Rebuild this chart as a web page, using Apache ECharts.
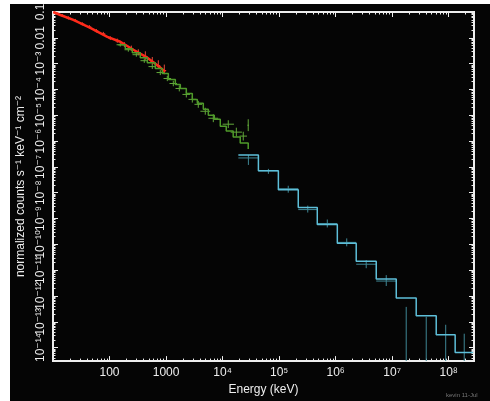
<!DOCTYPE html>
<html><head><meta charset="utf-8">
<script src="https://cdn.jsdelivr.net/npm/echarts@6/dist/echarts.min.js"></script>
<style>
html,body{margin:0;padding:0;background:#fff;width:490px;height:401px;overflow:hidden;}
#bg{position:absolute;left:10px;top:4px;width:480px;height:397px;background:#050505;}
#chart{position:absolute;left:0;top:0;width:490px;height:401px;}
</style></head><body><div id="bg"></div><div id="chart"></div>
<script>
// ---- axis ticks / labels ----
const xMin = 10, xMax = 2.8e8;
const yMin = 3.0e-15, yMax = 0.1;
const xTickValues = [10, 100, 1000, 1e4, 1e5, 1e6, 1e7, 1e8];
const xTickLabels = ['', '100', '1000', '10⁴', '10⁵', '10⁶', '10⁷', '10⁸'];
const yTickValues = [0.1, 0.01, 1e-3, 1e-4, 1e-5, 1e-6, 1e-7, 1e-8, 1e-9, 1e-10, 1e-11, 1e-12, 1e-13, 1e-14];
const yTickLabels = ['0.1', '0.01', '10⁻³', '10⁻⁴', '10⁻⁵', '10⁻⁶', '10⁻⁷', '10⁻⁸', '10⁻⁹', '10⁻¹⁰', '10⁻¹¹', '10⁻¹²', '10⁻¹³', '10⁻¹⁴'];
const xName = 'Energy (keV)';
const yName = 'normalized counts s⁻¹ keV⁻¹ cm⁻²';

// ---- red (low energy) ----
const redModelE = [10.1, 13.5, 22.9, 45.7, 91.5, 155, 264, 466, 791, 970];
const redModelF = [0.1, 0.0767, 0.0492, 0.0243, 0.0109, 0.00702, 0.00345, 0.00170, 0.000701, 0.00049];
// [E, F, Elo, Ehi, Flo, Fhi]
const redData = [
  [11.5, 0.0915, 10.7, 12.4, 0.080, 0.104],
  [14.6, 0.0733, 13.5, 15.8, 0.064, 0.084],
  [18.7, 0.0588, 17.3, 20.2, 0.051, 0.068],
  [24.8, 0.0471, 22.9, 26.8, 0.041, 0.054],
  [33.0, 0.0345, 30.5, 35.7, 0.030, 0.040],
  [44.0, 0.0265, 40.7, 47.6, 0.023, 0.031],
  [58.5, 0.0186, 54.1, 63.2, 0.016, 0.022],
  [77.7, 0.0143, 71.9, 84.0, 0.0123, 0.0170],
  [103, 0.00957, 95.3, 111, 0.0082, 0.0115],
  [137, 0.00767, 127, 148, 0.0064, 0.0093],
  [183, 0.00538, 169, 198, 0.0044, 0.0068],
  [243, 0.00378, 225, 263, 0.0031, 0.0050],
  [323, 0.00265, 299, 349, 0.0021, 0.0036],
  [430, 0.00186, 398, 465, 0.0014, 0.0030],
  [571, 0.00119, 528, 617, 0.0009, 0.0018],
  [729, 0.000837, 674, 788, 0.00062, 0.00135],
  [931, 0.000538, 861, 1006, 0.00039, 0.00092]
];

// ---- green (medium energy) ----
const greenModelE = [143, 190, 253, 350, 466, 645, 859, 1097, 1459, 1788, 2282, 2913, 3570, 4560, 5590, 7130, 9100, 11600, 15400, 20500, 28400];
const greenModelF = [5.38e-3, 3.78e-3, 2.65e-3, 1.70e-3, 1.09e-3, 6.42e-4, 4.12e-4, 2.43e-4, 1.56e-4, 1.09e-4, 7.01e-5, 4.12e-5, 2.90e-5, 1.70e-5, 1.0e-5, 7.01e-6, 3.78e-6, 2.43e-6, 1.43e-6, 8.38e-7, 4.92e-7];
const greenData = [
  [155, 5.38e-3, 133, 178, 4.6e-3, 6.3e-3],
  [215, 3.45e-3, 184, 250, 2.9e-3, 4.1e-3],
  [298, 2.22e-3, 255, 347, 1.85e-3, 2.65e-3],
  [412, 1.30e-3, 353, 480, 1.07e-3, 1.58e-3],
  [571, 7.67e-4, 489, 665, 6.2e-4, 9.5e-4],
  [791, 4.51e-4, 678, 922, 3.6e-4, 5.6e-4],
  [1052, 2.65e-4, 902, 1226, 2.1e-4, 3.35e-4],
  [1343, 1.70e-4, 1150, 1565, 1.33e-4, 2.17e-4],
  [1715, 1.09e-4, 1470, 2000, 8.4e-5, 1.41e-4],
  [2282, 6.42e-5, 1950, 2660, 4.9e-5, 8.4e-5],
  [2913, 4.12e-5, 2490, 3400, 3.1e-5, 5.5e-5],
  [3715, 2.65e-5, 3180, 4330, 1.95e-5, 3.6e-5],
  [4940, 1.43e-5, 4050, 6030, 1.05e-5, 1.95e-5],
  [6850, 7.67e-6, 5610, 8360, 5.4e-6, 1.09e-5],
  [12600, 4.51e-6, 10000, 15900, 3.2e-6, 6.4e-6],
  [17500, 2.22e-6, 13900, 22000, 1.5e-6, 3.3e-6],
  [23200, 1.56e-6, 20000, 27000, 1.05e-6, 2.3e-6],
  [28400, 4.12e-6, 27500, 29300, 2.43e-6, 7.0e-6]
];

// ---- cyan (high energy) ----
const cyanEdges = [1.9e4, 4.3e4, 9.7e4, 2.18e5, 4.73e5, 1.07e6, 2.31e6, 5.22e6, 1.18e7, 2.66e7, 6.01e7, 1.30e8, 2.71e8];
const cyanModel = [2.90e-7, 7.02e-8, 1.30e-8, 2.65e-9, 5.88e-10, 1.09e-10, 2.22e-11, 4.51e-12, 8.37e-13, 1.70e-13, 3.16e-14, 6.42e-15];
const cyanCenters = [2.86e4, 6.46e4, 1.45e5, 3.21e5, 7.11e5, 1.57e6, 3.47e6, 7.85e6, 1.77e7, 4.0e7, 8.84e7, 1.88e8];
const cyanF   = [2.22e-7, 7.02e-8, 1.43e-8, 2.22e-9, 6.42e-10, 1.19e-10, 1.70e-11, 3.78e-12, 1e-16, 1e-16, 1e-16, 1e-16];
const cyanFlo = [1.19e-7, 5.38e-8, 1.0e-8, 1.70e-9, 4.51e-10, 8.38e-11, 1.19e-11, 2.43e-12, 1e-18, 1e-18, 1e-18, 1e-18];
const cyanFhi = [2.90e-7, 8.37e-8, 1.86e-8, 3.16e-9, 9.15e-10, 1.70e-10, 2.43e-11, 6.42e-12, 3.78e-13, 1.56e-13, 7.67e-14, 3.45e-14];

// ---- build ----
const FONT = 'Liberation Sans, Arial, DejaVu Sans, sans-serif';
const WHITE = '#eeeeee';
function lbl(values, labels) {
  return function (v) {
    const lv = Math.log10(v);
    for (let i = 0; i < values.length; i++) if (Math.abs(Math.log10(values[i]) - lv) < 1e-6) return labels[i];
    return '';
  };
}
function minorTicks(lo, hi) {
  const out = [];
  for (let n = Math.floor(Math.log10(lo)) - 1; n <= Math.ceil(Math.log10(hi)); n++)
    for (let m = 2; m <= 9; m++) { const v = m * Math.pow(10, n); if (v > lo && v < hi) out.push(v); }
  return out;
}
const xMinor = minorTicks(xMin, xMax);
const yMinor = minorTicks(yMin, yMax);
const yMajorInRange = yTickValues.filter(v => v >= yMin && v <= yMax);
// blank placeholder label at the axis minimum, so the real labels are never dropped as "min label"
const yLabelValues = [yMin].concat(yMajorInRange.slice().reverse());

function xAx(pos, major, showLabel) {
  return {
    type: 'log', logBase: 10, min: xMin, max: xMax, position: pos, gridIndex: 0,
    axisLine: { show: true, onZero: false, lineStyle: { color: WHITE, width: 2 } },
    axisTick: { show: true, inside: true, length: major ? 5 : 2.5, lineStyle: { color: WHITE, width: 1 },
      customValues: major ? xTickValues : xMinor },
    axisLabel: showLabel ? { show: true, color: WHITE, fontSize: 12, fontFamily: FONT, margin: 6,
      hideOverlap: false,
      customValues: xTickValues.slice(1), formatter: lbl(xTickValues, xTickLabels) } : { show: false },
    splitLine: { show: false }, minorTick: { show: false }, minorSplitLine: { show: false },
    name: showLabel ? xName : '', nameLocation: 'middle', nameGap: 21,
    nameTextStyle: { color: WHITE, fontSize: 12, fontFamily: FONT }
  };
}
function yAx(pos, major, showLabel) {
  return {
    type: 'log', logBase: 10, min: yMin, max: yMax, position: pos, gridIndex: 0,
    axisLine: { show: true, onZero: false, lineStyle: { color: WHITE, width: 2 } },
    axisTick: { show: true, inside: true, length: major ? 5 : 2.5, lineStyle: { color: WHITE, width: 1 },
      customValues: major ? yMajorInRange : yMinor },
    axisLabel: showLabel ? { show: true, color: WHITE, fontSize: 12, fontFamily: FONT, margin: 6, rotate: 90,
      hideOverlap: false,
      customValues: yLabelValues, formatter: lbl(yTickValues, yTickLabels) } : { show: false },
    splitLine: { show: false }, minorTick: { show: false }, minorSplitLine: { show: false },
    name: showLabel ? yName : '', nameLocation: 'middle', nameGap: 26, nameRotate: 90,
    nameTextStyle: { color: WHITE, fontSize: 12, fontFamily: FONT }
  };
}

function crossRenderer(color, width) {
  return function (params, api) {
    const e = api.value(0), f = api.value(1);
    const l = api.coord([api.value(2), f]);
    const r = api.coord([api.value(3), f]);
    const lo = api.coord([e, api.value(4)]);
    const hi = api.coord([e, api.value(5)]);
    return { type: 'group', children: [
      { type: 'line', shape: { x1: l[0], y1: l[1], x2: r[0], y2: r[1] }, style: { stroke: color, lineWidth: width } },
      { type: 'line', shape: { x1: lo[0], y1: lo[1], x2: hi[0], y2: hi[1] }, style: { stroke: color, lineWidth: width } }
    ] };
  };
}
function zip(a, b) { return a.map((v, i) => [v, b[i]]); }
const cyanStep = cyanEdges.map((e, i) => [e, cyanModel[Math.min(i, cyanModel.length - 1)]]);
const cyanData = cyanCenters.map((c, i) => [c, cyanF[i], cyanEdges[i], cyanEdges[i + 1], cyanFlo[i], cyanFhi[i]]);
const greenStep = zip(greenModelE, greenModelF);

const chart = echarts.init(document.getElementById('chart'), null, { renderer: 'canvas' });
chart.setOption({
  backgroundColor: 'transparent',
  animation: false,
  grid: { left: 53, right: 16, top: 12, bottom: 38, containLabel: false },
  xAxis: [xAx('bottom', true, true), xAx('bottom', false, false), xAx('top', true, false), xAx('top', false, false)],
  yAxis: [yAx('left', true, true), yAx('left', false, false), yAx('right', true, false), yAx('right', false, false)],
  graphic: [{ type: 'text', left: 446, top: 392, style: { text: 'kevin 11-Jul', fill: '#777', fontSize: 6, fontFamily: FONT } }],
  series: [
    { type: 'custom', name: 'red data', xAxisIndex: 0, yAxisIndex: 0, clip: true, z: 3,
      renderItem: crossRenderer('#e24a3a', 1), data: redData },
    { type: 'line', name: 'red model', xAxisIndex: 0, yAxisIndex: 0, showSymbol: false, symbol: 'none', z: 4,
      lineStyle: { color: '#ff2a1a', width: 2.5 }, data: zip(redModelE, redModelF) },
    { type: 'custom', name: 'green data', xAxisIndex: 0, yAxisIndex: 0, clip: true, z: 3,
      renderItem: crossRenderer('#62a83a', 1), data: greenData },
    { type: 'line', name: 'green model', xAxisIndex: 0, yAxisIndex: 0, showSymbol: false, symbol: 'none', step: 'end', z: 4,
      lineStyle: { color: '#4f9a2a', width: 1.5 }, data: greenStep },
    { type: 'custom', name: 'cyan data', xAxisIndex: 0, yAxisIndex: 0, clip: true, z: 3,
      renderItem: crossRenderer('#3f8795', 1), data: cyanData },
    { type: 'line', name: 'cyan model', xAxisIndex: 0, yAxisIndex: 0, showSymbol: false, symbol: 'none', step: 'end', z: 4,
      lineStyle: { color: '#5ebfd9', width: 1.5 }, data: cyanStep }
  ]
});
</script></body></html>
